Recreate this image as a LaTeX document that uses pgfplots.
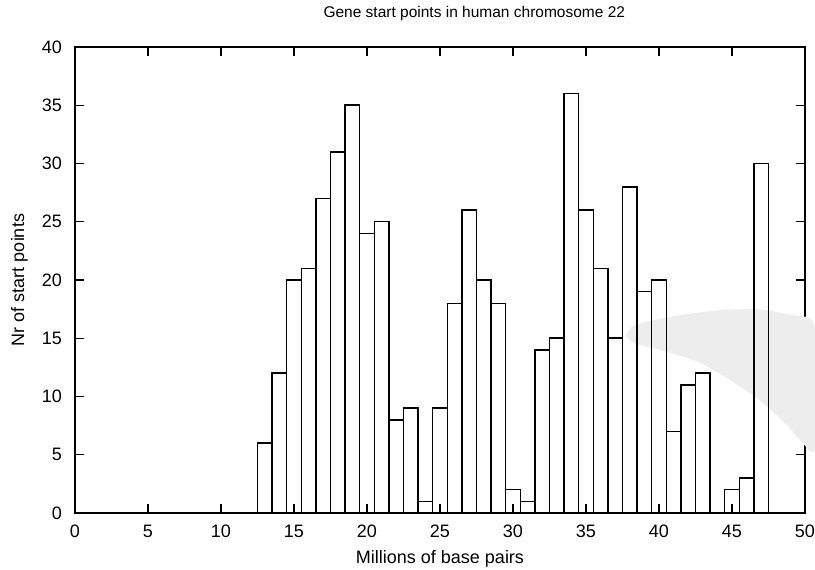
\documentclass[border=0pt]{standalone}
\usepackage{fontspec}
\setmainfont{Liberation Sans}
\usepackage{pgfplots}
\pgfplotsset{compat=1.18}
\begin{document}
\fontsize{18}{21.6}\selectfont
\begin{tikzpicture}
\begin{axis}[
  scale only axis, width=730pt, height=466pt,
  xmin=0, xmax=50, ymin=0, ymax=40,
  xtick={0,5,...,50}, ytick={0,5,...,40},
  tick align=inside, major tick length=9pt,
  tick style={line width=1.1pt, black},
  axis line style={line width=1.5pt},
  /pgf/number format/assume math mode=true,
  xticklabel style={inner sep=0pt, yshift=-12pt},
  yticklabel style={inner sep=0pt, xshift=-13pt},
  title={Gene start points in human chromosome 22},
  title style={at={(axis description cs:0.547,1.0751)}, anchor=north, inner sep=0pt, font=\fontsize{15.5}{18}\selectfont},
  xlabel={Millions of base pairs},
  xlabel style={at={(axis description cs:0.5,-0.0794)}, anchor=north, inner sep=0pt},
  ylabel={Nr of start points},
  ylabel style={at={(axis description cs:-0.0644,0.5)}, anchor=south, inner sep=0pt},
  clip=false,
]
\fill[black!7, rounded corners=10pt] (axis cs:37.67,15.72) -- (axis cs:38.70,16.32) -- (axis cs:41.44,17.01) -- (axis cs:44.18,17.44) -- (axis cs:46.92,17.53) -- (axis cs:48.97,17.01) -- (axis cs:50.68,16.75) -- (axis cs:50.68,4.81) -- (axis cs:49.66,6.27) -- (axis cs:48.63,7.73) -- (axis cs:46.92,9.71) -- (axis cs:44.86,11.43) -- (axis cs:42.81,12.97) -- (axis cs:40.07,14.00) -- (axis cs:38.70,14.43) -- (axis cs:37.81,14.69) -- cycle;
\addplot[ybar, bar width=1, draw=black, fill=none, line width=1.5pt] coordinates {
(13,6) (14,12) (15,20) (16,21) (17,27) (18,31) (19,35) (20,24) (21,25) (22,8)
(23,9) (24,1) (25,9) (26,18) (27,26) (28,20) (29,18) (30,2) (31,1) (32,14)
(33,15) (34,36) (35,26) (36,21) (37,15) (38,28) (39,19) (40,20) (41,7) (42,11)
(43,12) (45,2) (46,3) (47,30)
};
\end{axis}
\path (current axis.south west) ++(-75pt,-57pt);
\path (current axis.north east) ++(10pt,47pt);
\end{tikzpicture}
\end{document}
